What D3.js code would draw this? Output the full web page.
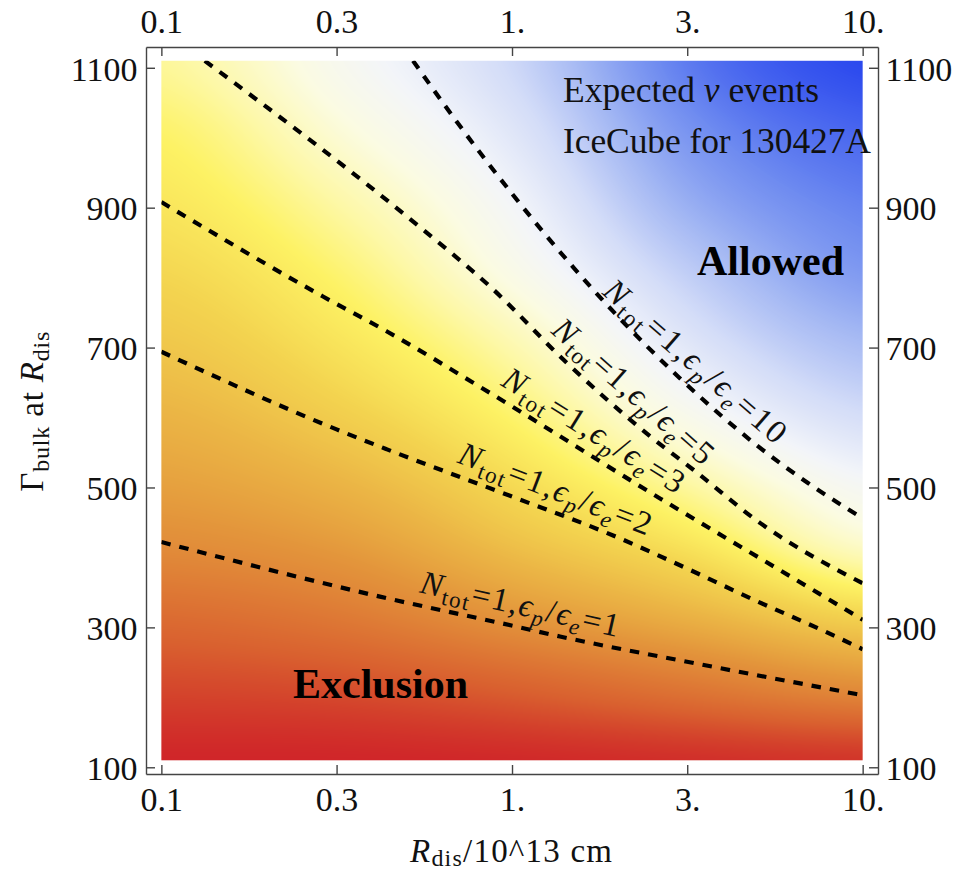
<!DOCTYPE html>
<html>
<head>
<meta charset="utf-8">
<script src="https://cdn.jsdelivr.net/npm/d3@7"></script>
<style>
  html, body { margin: 0; padding: 0; background: #fff; }
  svg { display: block; font-family: "Liberation Serif", "Times New Roman", serif; }
</style>
</head>
<body>
<svg id="chart" width="957" height="872"></svg>
<script>
// ---- tick values and labels ----
const rTicks = [0.1, 0.316, 1, 3.16, 10];
const rTickLabels = ["0.1", "0.3", "1.", "3.", "10."];
const gammaTicks = [100, 300, 500, 700, 900, 1100];

// ---- extent of the density map ----
const rRange = [0.1, 10];
const gammaRange = [110, 1110];

// ---- expected-event density (position on the colour map, 0 = red ... 1 = blue) ----
// sampled at Γ = 110, 210, ..., 1110 for each R column
const gridR = [0.1, 0.316, 1, 3.16, 10];
const gridGamma = [110, 210, 310, 410, 510, 610, 710, 810, 910, 1010, 1110];
const densityR0_1  = [0.02, 0.12, 0.24, 0.36, 0.44, 0.50, 0.55, 0.59, 0.625, 0.655, 0.69];
const densityR0_3  = [0.02, 0.14, 0.29, 0.41, 0.50, 0.57, 0.62, 0.66, 0.70, 0.74, 0.77];
const densityR1    = [0.03, 0.20, 0.39, 0.52, 0.60, 0.66, 0.71, 0.76, 0.79, 0.82, 0.845];
const densityR3    = [0.05, 0.28, 0.48, 0.61, 0.70, 0.77, 0.82, 0.86, 0.90, 0.93, 0.955];
const densityR10   = [0.07, 0.36, 0.57, 0.72, 0.785, 0.84, 0.885, 0.925, 0.95, 0.975, 1.0];

// ---- colour map ----
const colorStops = [0, 0.10, 0.20, 0.30, 0.40, 0.50, 0.58, 0.65, 0.70, 0.75, 0.79, 0.84, 0.89, 0.94, 1.0];
const colorRamp = ["#cf1f28", "#d33f2b", "#d9602f", "#de7a35", "#e3953b", "#ebb545", "#f3d34f",
                   "#fdf264", "#fdf8a8", "#fbfbe2", "#f3f5f9", "#d3dcf8", "#a3b7f3", "#6f8cf0", "#2b49ee"];

// ---- N_tot = 1 contours, [R (10^13 cm), Γ_bulk] ----
const contourRatios = [1, 2, 3, 5, 10];
const contourRatio1  = [[0.1, 422], [0.42, 344], [0.99, 303], [1.37, 287], [3.3, 249], [10, 203]];
const contourRatio2  = [[0.1, 694], [0.316, 583], [0.44, 554.5], [1, 487], [1.95, 431], [3.16, 384],
                        [4.89, 339.5], [7.74, 295], [10, 268.7]];
const contourRatio3  = [[0.1, 908], [0.289, 773], [0.44, 723], [0.886, 632], [2.65, 484], [4.1, 427],
                        [6.36, 370], [10, 311]];
const contourRatio5  = [[0.133, 1110], [0.559, 868], [0.867, 787], [1.434, 678], [2.479, 573],
                        [3.296, 525], [5.107, 449], [10, 363]];
const contourRatio10 = [[0.522, 1110], [0.7, 1021], [1, 920], [1.5, 814], [2, 745], [3, 657],
                        [5, 560], [7, 506], [10, 456]];
const contourLabelR = [1.02, 1.26, 1.58, 2.01, 3.02];

const contours = [contourRatio1, contourRatio2, contourRatio3, contourRatio5, contourRatio10];
const densityColumns = [densityR0_1, densityR0_3, densityR1, densityR3, densityR10];

const FONT = '"Liberation Serif", "Times New Roman", serif';
const svg = d3.select("#chart");

// ---- scales ----
const x = d3.scaleLog().domain([0.0904, 11.06]).range([146, 878]);
const y = d3.scaleLinear().domain([90.4, 1129.7]).range([774, 47]);

// ---- density map ----
function catmullRom(vals, u) {
  const n = vals.length - 1;
  const s = Math.max(0, Math.min(n, u * n));
  const i = Math.min(n - 1, Math.floor(s));
  const f = s - i;
  const p0 = vals[Math.max(0, i - 1)], p1 = vals[i], p2 = vals[i + 1], p3 = vals[Math.min(n, i + 2)];
  return 0.5 * (2 * p1 + (-p0 + p2) * f + (2 * p0 - 5 * p1 + 4 * p2 - p3) * f * f +
                (-p0 + 3 * p1 - 3 * p2 + p3) * f * f * f);
}

const colorScale = d3.scaleLinear().domain(colorStops).range(colorRamp)
  .interpolate(d3.interpolateRgb).clamp(true);
const LUT_N = 1024;
const lut = d3.range(LUT_N + 1).map(k => d3.rgb(colorScale(k / LUT_N)));

const X0 = x(rRange[0]), X1 = x(rRange[1]);
const Y0 = y(gammaRange[1]), Y1 = y(gammaRange[0]);
const W = Math.round(X1 - X0), H = Math.round(Y1 - Y0);
const canvas = document.createElement("canvas");
canvas.width = W; canvas.height = H;
const ctx = canvas.getContext("2d");
const img = ctx.createImageData(W, H);
const lr0 = Math.log10(gridR[0]), lr1 = Math.log10(gridR[gridR.length - 1]);
const g0 = gridGamma[0], g1 = gridGamma[gridGamma.length - 1];

for (let i = 0; i < W; i++) {
  const r = x.invert(X0 + (i + 0.5) * (X1 - X0) / W);
  const u = (Math.log10(r) - lr0) / (lr1 - lr0);
  const colVals = gridGamma.map((_, k) => catmullRom(densityColumns.map(c => c[k]), u));
  for (let j = 0; j < H; j++) {
    const g = y.invert(Y0 + (j + 0.5) * (Y1 - Y0) / H);
    const v = (g - g0) / (g1 - g0);
    const t = Math.max(0, Math.min(1, catmullRom(colVals, v)));
    const c = lut[Math.round(t * LUT_N)];
    const p = (j * W + i) * 4;
    img.data[p] = c.r; img.data[p + 1] = c.g; img.data[p + 2] = c.b; img.data[p + 3] = 255;
  }
}
ctx.putImageData(img, 0, 0);

svg.append("image")
  .attr("x", X0).attr("y", Y0)
  .attr("width", X1 - X0).attr("height", Y1 - Y0)
  .attr("preserveAspectRatio", "none")
  .attr("href", canvas.toDataURL());

// ---- contour lines ----
svg.append("clipPath").attr("id", "mapClip")
  .append("rect").attr("x", X0).attr("y", Y0).attr("width", X1 - X0).attr("height", Y1 - Y0);

const line = d3.line().x(d => x(d[0])).y(d => y(d[1])).curve(d3.curveMonotoneX);
svg.append("g").attr("clip-path", "url(#mapClip)")
  .selectAll("path").data(contours).join("path")
  .attr("d", line)
  .attr("fill", "none")
  .attr("stroke", "#000")
  .attr("stroke-width", 4.2)
  .attr("stroke-dasharray", "9.5,9");

// ---- contour labels, set along each line ----
function pointOnContour(points, r) {
  const px = points.map(d => [x(d[0]), y(d[1])]);
  const xr = x(r);
  let i = 0;
  while (i < px.length - 2 && px[i + 1][0] < xr) i++;
  const a = px[i], b = px[i + 1];
  const f = (xr - a[0]) / (b[0] - a[0]);
  return { x: xr, y: a[1] + f * (b[1] - a[1]), angle: Math.atan2(b[1] - a[1], b[0] - a[0]) };
}

const labelLengths = [203, 204, 208, 203, 231];
const labelOffset = 12;
contours.forEach((pts, k) => {
  const p = pointOnContour(pts, contourLabelR[k]);
  const cx = p.x + Math.sin(p.angle) * labelOffset;
  const cy = p.y - Math.cos(p.angle) * labelOffset;
  const t = svg.append("text")
    .attr("transform", `translate(${cx},${cy}) rotate(${p.angle * 180 / Math.PI})`)
    .attr("text-anchor", "middle")
    .attr("font-family", FONT)
    .attr("font-size", 33)
    .attr("fill", "#111")
    .attr("textLength", labelLengths[k])
    .attr("lengthAdjust", "spacing");
  t.append("tspan").attr("font-style", "italic").text("N");
  t.append("tspan").attr("font-size", 23).attr("dy", 7).text("tot");
  t.append("tspan").attr("dy", -7).text("=1,");
  t.append("tspan").attr("font-style", "italic").text("\u03F5");
  t.append("tspan").attr("font-style", "italic").attr("font-size", 23).attr("dy", 7).text("p");
  t.append("tspan").attr("dy", -7).text("/");
  t.append("tspan").attr("font-style", "italic").text("\u03F5");
  t.append("tspan").attr("font-style", "italic").attr("font-size", 23).attr("dy", 7).text("e");
  t.append("tspan").attr("dy", -7).text("=" + contourRatios[k]);
});

// ---- annotations ----
const note1 = svg.append("text").attr("x", 563).attr("y", 101.7)
  .attr("font-family", FONT).attr("font-size", 35.5).attr("fill", "#111")
  .attr("textLength", 256).attr("lengthAdjust", "spacing");
note1.append("tspan").text("Expected ");
note1.append("tspan").attr("font-style", "italic").text("\u03BD");
note1.append("tspan").text(" events");

svg.append("text").attr("x", 563).attr("y", 152.7)
  .attr("font-family", FONT).attr("font-size", 35.5).attr("fill", "#111")
  .attr("textLength", 308).attr("lengthAdjust", "spacing")
  .text("IceCube for 130427A");

svg.append("text").attr("x", 697).attr("y", 275)
  .attr("font-family", FONT).attr("font-size", 42).attr("font-weight", "bold").attr("fill", "#000")
  .text("Allowed");

svg.append("text").attr("x", 293).attr("y", 697.7)
  .attr("font-family", FONT).attr("font-size", 42).attr("font-weight", "bold").attr("fill", "#000")
  .text("Exclusion");

// ---- frame axes ----
function styleAxis(g, dy) {
  g.attr("font-family", FONT).attr("font-size", 34);
  g.selectAll("path.domain, .tick line").attr("stroke", "#444").attr("stroke-width", 1.4);
  g.selectAll(".tick text").attr("fill", "#111");
  if (dy) g.selectAll(".tick text").attr("dy", dy);
}
const fmtR = (d, i) => rTickLabels[i];

svg.append("g").attr("transform", "translate(0,774)")
  .call(d3.axisBottom(x).tickValues(rTicks).tickFormat(fmtR)
    .tickSizeInner(-9).tickSizeOuter(0).tickPadding(13))
  .call(g => styleAxis(g));
svg.append("g").attr("transform", "translate(0,47)")
  .call(d3.axisTop(x).tickValues(rTicks).tickFormat(fmtR)
    .tickSizeInner(-9).tickSizeOuter(0).tickPadding(13.7))
  .call(g => styleAxis(g));
svg.append("g").attr("transform", "translate(146,0)")
  .call(d3.axisLeft(y).tickValues(gammaTicks).tickFormat(d3.format("d"))
    .tickSizeInner(-9).tickSizeOuter(0).tickPadding(8.5))
  .call(g => styleAxis(g, "0.36em"));
svg.append("g").attr("transform", "translate(878,0)")
  .call(d3.axisRight(y).tickValues(gammaTicks).tickFormat(d3.format("d"))
    .tickSizeInner(-9).tickSizeOuter(0).tickPadding(7.5))
  .call(g => styleAxis(g, "0.36em"));

// ---- axis titles ----
const xTitle = svg.append("text").attr("x", 511).attr("y", 862)
  .attr("text-anchor", "middle").attr("font-family", FONT).attr("font-size", 33).attr("fill", "#111")
  .attr("textLength", 202).attr("lengthAdjust", "spacing");
xTitle.append("tspan").attr("font-style", "italic").text("R");
xTitle.append("tspan").attr("font-size", 24).attr("dy", 4).text("dis");
xTitle.append("tspan").attr("dy", -4).text("/10^13 cm");

const yTitle = svg.append("text").attr("transform", "translate(42.7,411.7) rotate(-90)")
  .attr("text-anchor", "middle").attr("font-family", FONT).attr("font-size", 33).attr("fill", "#111")
  .attr("textLength", 160).attr("lengthAdjust", "spacing");
yTitle.append("tspan").text("\u0393");
yTitle.append("tspan").attr("font-size", 24).attr("dy", 6).text("bulk");
yTitle.append("tspan").attr("dy", -6).text(" at ");
yTitle.append("tspan").attr("font-style", "italic").text("R");
yTitle.append("tspan").attr("font-size", 24).attr("dy", 6).text("dis");
</script>
</body>
</html>
